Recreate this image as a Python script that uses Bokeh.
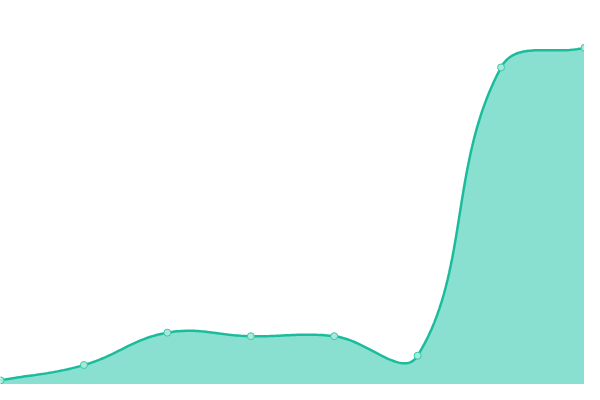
import numpy as np
from bokeh.plotting import figure
from bokeh.models import Range1d, ColumnDataSource
from bokeh.embed import file_html
from bokeh.resources import INLINE

# data
x_index = [0, 1, 2, 3, 4, 5, 6, 7]
values = [4.3, 20.3, 54.0, 50.3, 50.3, 30.0, 330.3, 350.7]

LINE = "#1abc9c"
FILL = "#8ae0d0"

W, H = 584, 384
XMAX, YMAX = 7.0, 400.0

p = figure(width=W, height=H, output_backend="svg", toolbar_location=None,
           x_range=Range1d(0, XMAX), y_range=Range1d(0, YMAX),
           min_border=0, min_border_left=0, min_border_right=0,
           min_border_top=0, min_border_bottom=0)
p.axis.visible = False
p.grid.visible = False
p.outline_line_color = None
p.background_fill_color = "white"
p.border_fill_color = "white"

# Chart.js-style cardinal spline (tension 0.4) computed in screen space
sx = W / XMAX
sy = H / YMAX
px = np.array(x_index, float) * sx
py = np.array(values, float) * sy
n = len(px)
t = 0.4
cps = []
for i in range(n):
    pv = (px[max(i - 1, 0)], py[max(i - 1, 0)])
    cu = (px[i], py[i])
    nx = (px[min(i + 1, n - 1)], py[min(i + 1, n - 1)])
    d01 = np.hypot(cu[0] - pv[0], cu[1] - pv[1])
    d12 = np.hypot(nx[0] - cu[0], nx[1] - cu[1])
    s01 = d01 / (d01 + d12) if d01 + d12 else 0
    s12 = d12 / (d01 + d12) if d01 + d12 else 0
    fa, fb = t * s01, t * s12
    cp_prev = (cu[0] - fa * (nx[0] - pv[0]), cu[1] - fa * (nx[1] - pv[1]))
    cp_next = (cu[0] + fb * (nx[0] - pv[0]), cu[1] + fb * (nx[1] - pv[1]))
    cps.append((cp_prev, cp_next))

cx, cy = [], []
u = np.linspace(0, 1, 40)
for i in range(n - 1):
    p0 = np.array([px[i], py[i]])
    p1 = np.array(cps[i][1])
    p2 = np.array(cps[i + 1][0])
    p3 = np.array([px[i + 1], py[i + 1]])
    b = ((1 - u) ** 3)[:, None] * p0 + (3 * (1 - u) ** 2 * u)[:, None] * p1 \
        + (3 * (1 - u) * u ** 2)[:, None] * p2 + (u ** 3)[:, None] * p3
    if i > 0:
        b = b[1:]
    cx.extend(b[:, 0] / sx)
    cy.extend(b[:, 1] / sy)

curve = ColumnDataSource(dict(x=cx, y=cy, y0=[0] * len(cx)))
p.varea(x="x", y1="y0", y2="y", source=curve, fill_color=FILL, fill_alpha=1)
p.line(x="x", y="y", source=curve, line_color=LINE, line_width=2.5)

pts = ColumnDataSource(dict(x=x_index, y=values))
p.scatter(x="x", y="y", source=pts, size=7, fill_color="#a6ead9",
          line_color="#3cc7a8", line_width=1)

open("out.html", "w").write(file_html(p, INLINE))
